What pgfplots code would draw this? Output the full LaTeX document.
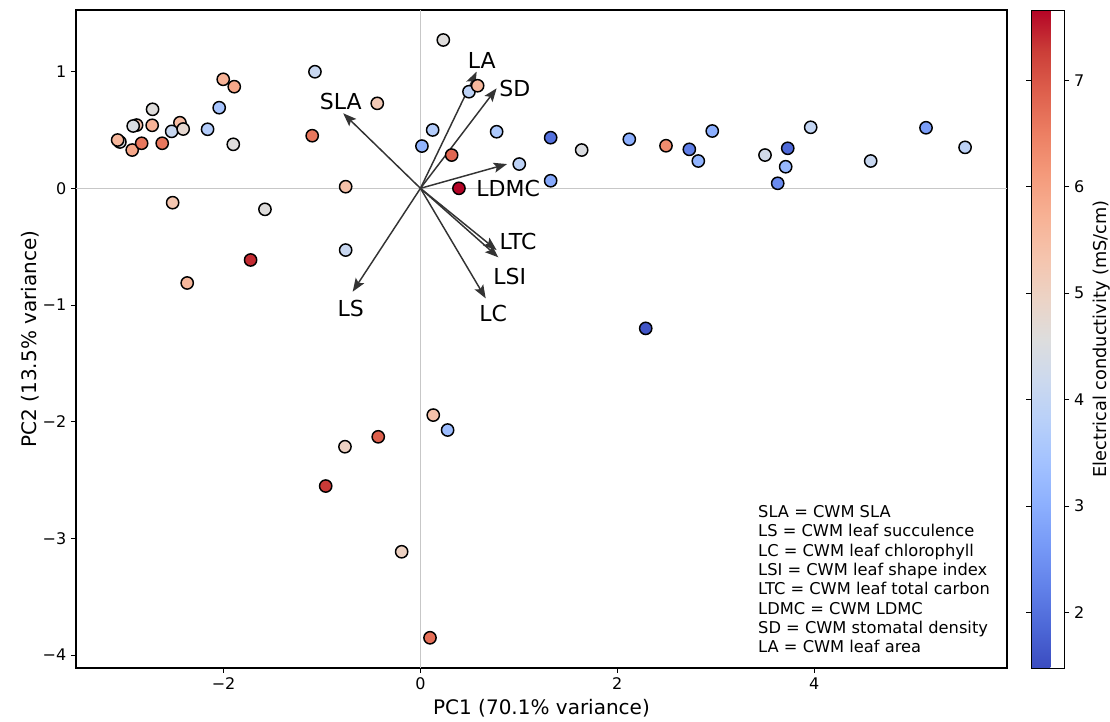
\documentclass[border=0pt]{standalone}
\usepackage{fontspec}
\setmainfont{DejaVu Sans}
\usepackage{pgfplots}
\usepackage{pgfplotstable}
\pgfplotsset{compat=1.18}
\usetikzlibrary{arrows.meta}

\pgfplotstableread{
x y c
-3.054 0.397 4.5
-3.077 0.414 5.6
-2.929 0.328 5.9
-2.833 0.386 6.6
-2.884 0.542 5.4
-2.919 0.534 4.5
-2.722 0.677 4.6
-2.726 0.540 5.7
-2.624 0.386 6.6
-2.444 0.562 5.5
-2.528 0.488 4.1
-2.411 0.508 4.8
-2.163 0.506 3.7
-2.045 0.691 3.5
-2.004 0.934 5.7
-1.892 0.871 5.9
-1.902 0.377 4.6
-1.072 0.999 4.1
-1.100 0.451 6.6
-2.518 -0.123 5.3
-1.580 -0.180 4.6
-0.760 0.014 5.4
-1.726 -0.614 7.4
-2.370 -0.811 5.6
0.232 1.271 4.6
-0.439 0.728 5.2
0.493 0.828 3.9
0.581 0.879 5.6
0.124 0.500 3.7
0.015 0.362 3.1
0.317 0.285 6.8
0.774 0.485 3.6
1.323 0.434 2.0
1.638 0.328 4.5
2.122 0.420 3.0
1.004 0.208 3.9
1.323 0.065 2.9
0.391 0.000 7.66
-0.760 -0.529 4.1
2.289 -1.200 1.6
2.495 0.365 6.3
2.732 0.334 2.2
2.965 0.491 3.0
2.823 0.234 3.1
3.501 0.285 4.3
3.732 0.343 1.9
3.711 0.185 3.2
3.630 0.043 2.4
3.965 0.523 4.0
4.575 0.234 4.1
5.137 0.519 2.7
5.534 0.351 3.9
0.130 -1.943 5.4
0.276 -2.071 3.3
-0.429 -2.129 6.9
-0.767 -2.214 5.0
-0.963 -2.551 7.3
-0.191 -3.114 5.0
0.097 -3.851 6.7
}\pts

\begin{document}
\begin{tikzpicture}
\useasboundingbox (-57pt,-39.75pt) rectangle (775.5pt,501pt);
\begin{axis}[
  at={(0,0)}, anchor=south west,
  scale only axis, width=698.25pt, height=493.5pt,
  xmin=-3.50, xmax=5.96, ymin=-4.11, ymax=1.528,
  axis line style={line width=0.8pt},
  tick align=outside, tick pos=left, major tick length=3.75pt,
  tick style={line width=0.8pt, black},
  xtick={-2,0,2,4}, xticklabels={−2,0,2,4},
  ytick={-4,-3,-2,-1,0,1}, yticklabels={−4,−3,−2,−1,0,1},
  ticklabel style={font=\fontsize{12}{14}\selectfont},
  xlabel={PC1 (70.1\% variance)}, ylabel={PC2 (13.5\% variance)},
  label style={font=\fontsize{15}{18}\selectfont},
  ylabel shift=-4pt,
  colormap={coolwarm}{
    rgb255(0cm)=(59,76,192); rgb255(1cm)=(77,104,215); rgb255(2cm)=(98,130,234);
    rgb255(3cm)=(119,154,247); rgb255(4cm)=(141,176,254); rgb255(5cm)=(163,194,255);
    rgb255(6cm)=(184,208,249); rgb255(7cm)=(204,217,238); rgb255(8cm)=(221,221,221);
    rgb255(9cm)=(236,211,197); rgb255(10cm)=(245,196,173); rgb255(11cm)=(247,177,148);
    rgb255(12cm)=(244,154,123); rgb255(13cm)=(236,127,99); rgb255(14cm)=(222,96,77);
    rgb255(15cm)=(203,62,56); rgb255(16cm)=(180,4,38)},
  point meta min=1.48, point meta max=7.66,
  colorbar right,
  colorbar style={
    at={(parent axis.north east)}, anchor=north west, xshift=9.75pt,
    width=24.75pt,
    ytick={2,3,4,5,6,7}, yticklabels={2,3,4,5,6,7},
    yticklabel style={font=\fontsize{12}{14}\selectfont},
    ylabel={Electrical conductivity (mS/cm)},
    ylabel style={font=\fontsize{13.3}{16}\selectfont, at={([xshift=21pt]rel axis cs:1,0.5)}, anchor=north, inner sep=0pt},
    tick align=outside, major tick length=3.75pt,
    tick style={line width=0.8pt, black},
    axis line style={line width=0.6pt},
  },
]
\addplot[scatter, only marks, mark=*, mark size=4.6pt,
  scatter src=explicit,
  scatter/use mapped color={draw=black, fill=mapped color},
  mark options={line width=1.1pt}]
  table[x=x, y=y, meta=c] {\pts};

\addplot[black!22, line width=0.8pt, forget plot] coordinates {(-3.5,0) (5.96,0)};
\addplot[black!22, line width=0.8pt, forget plot] coordinates {(0,-4.11) (0,1.528)};

\pgfplotsset{arr/.style={black!80, line width=1.1pt, -{Stealth[length=10pt,width=7.5pt,inset=2pt]}, forget plot}}
\addplot[arr] coordinates {(0,0) (-0.785,0.643)};
\addplot[arr] coordinates {(0,0) (0.571,1.000)};
\addplot[arr] coordinates {(0,0) (0.774,0.857)};
\addplot[arr] coordinates {(0,0) (0.880,0.208)};
\addplot[arr] coordinates {(0,0) (0.774,-0.529)};
\addplot[arr] coordinates {(0,0) (0.791,-0.591)};
\addplot[arr] coordinates {(0,0) (0.663,-0.943)};
\addplot[arr] coordinates {(0,0) (-0.689,-0.886)};

\begin{scope}[every node/.style={font=\fontsize{16.5}{19}\selectfont, inner sep=0pt}]
\node at (axis cs:-0.81,0.742) {SLA};
\node at (axis cs:0.622,1.099) {LA};
\node at (axis cs:0.960,0.857) {SD};
\node at (axis cs:0.892,0.0) {LDMC};
\node at (axis cs:0.991,-0.458) {LTC};
\node at (axis cs:0.907,-0.757) {LSI};
\node at (axis cs:0.740,-1.071) {LC};
\node at (axis cs:-0.708,-1.028) {LS};
\end{scope}

\node[anchor=north west, align=left, inner sep=0pt, font=\fontsize{12.2}{14.5}\selectfont]
  at (rel axis cs:0.7325,0.2477) {SLA = CWM SLA\\LS = CWM leaf succulence\\LC = CWM leaf chlorophyll\\LSI = CWM leaf shape index\\LTC = CWM leaf total carbon\\LDMC = CWM LDMC\\SD = CWM stomatal density\\LA = CWM leaf area};
\end{axis}
\end{tikzpicture}
\end{document}
